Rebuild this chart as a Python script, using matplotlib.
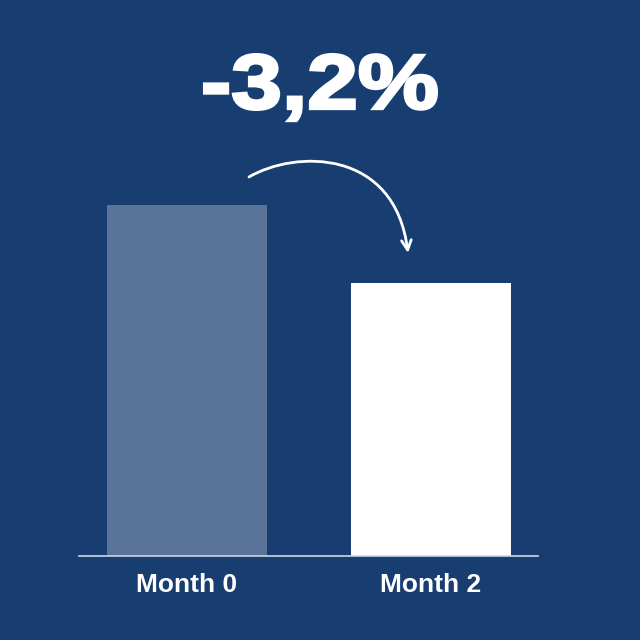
import matplotlib.pyplot as plt
from matplotlib.patches import FancyArrowPatch, PathPatch
from matplotlib.path import Path
from matplotlib.textpath import TextPath
from matplotlib.font_manager import FontProperties
from matplotlib.transforms import Affine2D

# data
months = ["Month 0", "Month 2"]
values = [100.0, 77.8]
change_label = "-3,2%"

bg = "#183e71"
bar_colors = ["#5a7499", "#ffffff"]

fig = plt.figure(figsize=(6.4, 6.4), dpi=100)
fig.patch.set_facecolor(bg)

W = 640.0
# main axes: left at 79px, right at 538px, baseline at 556px, top at 100px
ax = fig.add_axes([79 / W, (W - 556) / W, (538 - 79) / W, (556 - 100) / W])
ax.set_facecolor(bg)
x = [0, 1]
ax.bar(x, values, width=0.654, color=bar_colors)
ax.set_xlim(-0.44, 1.4376)
ax.set_ylim(0, values[0] * 456 / 351)
for s in ["top", "right", "left"]:
    ax.spines[s].set_visible(False)
ax.spines["bottom"].set_color("#d0d6e0")
ax.spines["bottom"].set_linewidth(1.2)
ax.set_yticks([])
ax.set_xticks(x)
ax.set_xticklabels(months, fontsize=19, fontweight="bold", color="white",
                   fontfamily="Liberation Sans")
ax.tick_params(axis="x", length=0, pad=12)

# overlay in pixel coords for title and arrow
ov = fig.add_axes([0, 0, 1, 1])
ov.set_xlim(0, 640)
ov.set_ylim(640, 0)
ov.axis("off")

# big heavy title: text path stretched to fit the box of the reference
fp = FontProperties(family="Liberation Sans", weight="bold")
tp = TextPath((0, 0), change_label, size=100, prop=fp)
h3 = TextPath((0, 0), "3", size=100, prop=fp).get_extents()
ext = tp.get_extents()
sx = (235 - 3) / ext.width
sy = (58 - 3) / (h3.y1 - h3.y0)
tr = Affine2D().translate(-ext.x0, -h3.y0).scale(sx, -sy).translate(204.5, 109.5)
ov.add_patch(PathPatch(tr.transform_path(tp), facecolor="white",
                       edgecolor="white", lw=2.2))

verts = [(249, 177), (295, 150), (395, 148), (408, 253)]
codes = [Path.MOVETO, Path.CURVE4, Path.CURVE4, Path.CURVE4]
arrow = FancyArrowPatch(path=Path(verts, codes), arrowstyle="->,head_length=7,head_width=3.5",
                        color="white", lw=2, transform=ov.transData,
                        mutation_scale=1)
ov.add_patch(arrow)

fig.savefig("out.png", dpi=100, facecolor=bg)
